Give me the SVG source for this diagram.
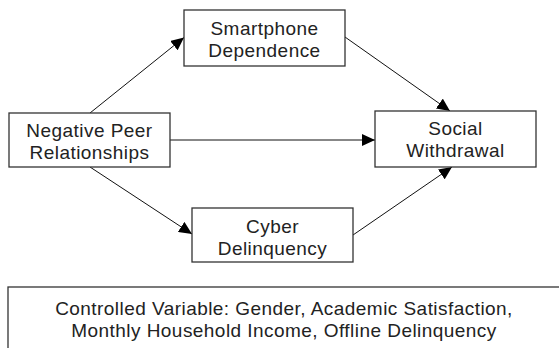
<svg xmlns="http://www.w3.org/2000/svg" width="559" height="348" viewBox="0 0 559 348">
<style>
.box{fill:#fff;stroke:#333;stroke-width:1.3}
.t{font-family:"Liberation Sans",Arial,sans-serif;font-size:19px;letter-spacing:0.45px;fill:#222;text-anchor:middle}
.c{stroke:#111;stroke-width:1;fill:none;marker-end:url(#ah)}
</style>
<defs>
<marker id="ah" viewBox="0 0 13 12" refX="13" refY="6" markerWidth="13" markerHeight="12" markerUnits="userSpaceOnUse" orient="auto">
<path d="M0,0 L13,6 L0,12 z" fill="#000"/>
</marker>
</defs>
<rect width="559" height="348" fill="#fff"/>
<g id="connectors">
<line class="c" x1="90" y1="113" x2="184" y2="37.5"/>
<line class="c" x1="345" y1="37" x2="450" y2="111"/>
<line class="c" x1="170" y1="140" x2="375" y2="140"/>
<line class="c" x1="90" y1="167" x2="192" y2="234"/>
<line class="c" x1="353" y1="235" x2="452" y2="167"/>
</g>
<g id="npr">
<rect class="box" x="9" y="113" width="161" height="54"/>
<text class="t" x="89.5" y="137">Negative Peer</text>
<text class="t" x="89.5" y="159">Relationships</text>
</g>
<g id="smartphone">
<rect class="box" x="184" y="10" width="161" height="56"/>
<text class="t" x="264.5" y="35">Smartphone</text>
<text class="t" x="264.5" y="57">Dependence</text>
</g>
<g id="social">
<rect class="box" x="375" y="111" width="161" height="56"/>
<text class="t" x="455.5" y="135">Social</text>
<text class="t" x="455.5" y="157">Withdrawal</text>
</g>
<g id="cyber">
<rect class="box" x="192" y="208" width="161" height="54"/>
<text class="t" x="272.5" y="233">Cyber</text>
<text class="t" x="272.5" y="255">Delinquency</text>
</g>
<g id="controlled">
<rect class="box" x="8" y="287" width="560" height="80"/>
<text class="t" x="284" y="315">Controlled Variable: Gender, Academic Satisfaction,</text>
<text class="t" x="284" y="337">Monthly Household Income, Offline Delinquency</text>
</g>
</svg>
